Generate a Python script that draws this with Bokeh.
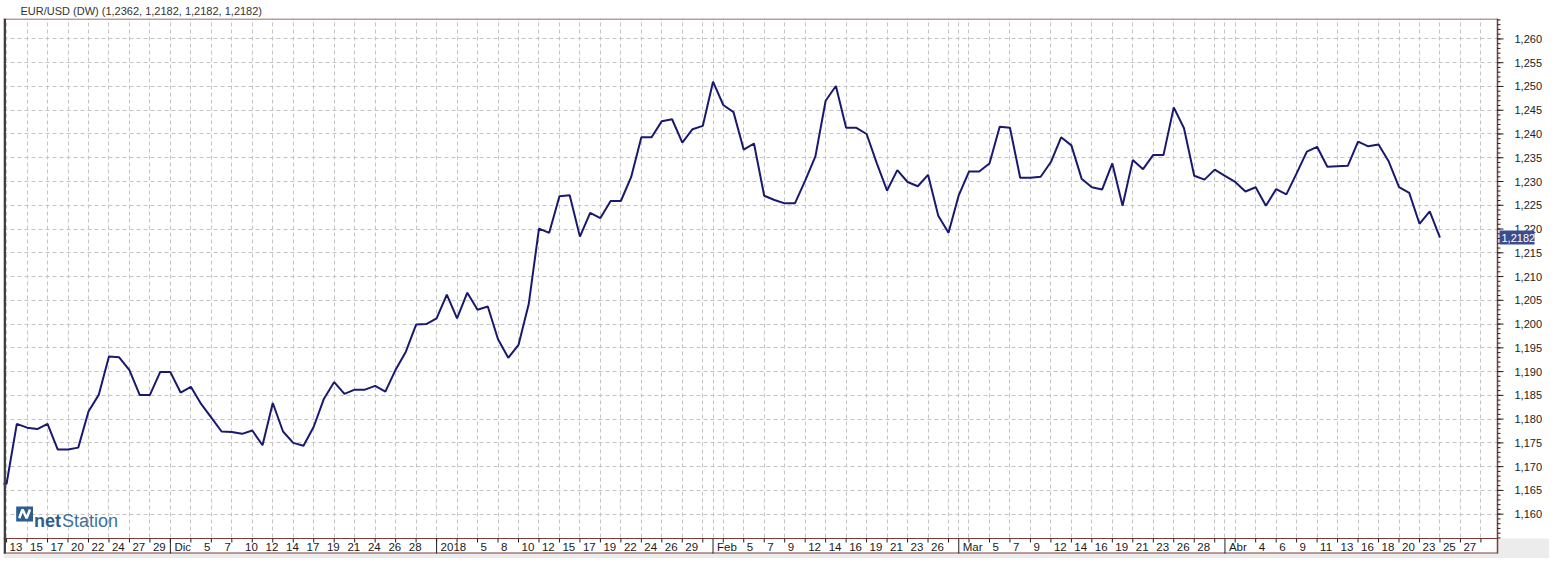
from bokeh.plotting import figure
from bokeh.models import Range1d, FixedTicker, Grid
from bokeh.core.properties import value
from bokeh.embed import file_html
from bokeh.resources import INLINE

# ---------------- data ----------------
title_text = "EUR/USD (DW) (1,2362, 1,2182, 1,2182, 1,2182)"

# daily closes, one per session bar (bar 0 = Sun 12 Nov 2017 ... bar 141 = 25 Apr 2018)
close = [
    1.1664, 1.1664, 1.1790, 1.1782, 1.1779, 1.1790, 1.1736, 1.1736, 1.1740, 1.1816,
    1.1851, 1.1932, 1.1930, 1.1903, 1.1851, 1.1851, 1.1899, 1.1899, 1.1856, 1.1868,
    1.1832, 1.1803, 1.1774, 1.1773, 1.1769, 1.1776, 1.1745, 1.1834, 1.1774, 1.1750,
    1.1744, 1.1784, 1.1843, 1.1878, 1.1853, 1.1862, 1.1862, 1.1870, 1.1858, 1.1904,
    1.1942, 1.1999, 1.2000, 1.2012, 1.2062, 1.2012, 1.2066, 1.2030, 1.2037, 1.1968,
    1.1929, 1.1956, 1.2042, 1.2201, 1.2192, 1.2269, 1.2271, 1.2184, 1.2234, 1.2223,
    1.2259, 1.2259, 1.2309, 1.2393, 1.2393, 1.2427, 1.2431, 1.2382, 1.2410, 1.2417,
    1.2510, 1.2461, 1.2446, 1.2367, 1.2380, 1.2270, 1.2261, 1.2254, 1.2254, 1.2302,
    1.2353, 1.2470, 1.2501, 1.2413, 1.2413, 1.2400, 1.2338, 1.2281, 1.2324, 1.2299,
    1.2290, 1.2314, 1.2228, 1.2192, 1.2271, 1.2321, 1.2321, 1.2338, 1.2415, 1.2413,
    1.2308, 1.2308, 1.2310, 1.2341, 1.2393, 1.2376, 1.2306, 1.2288, 1.2283, 1.2338,
    1.2249, 1.2345, 1.2326, 1.2356, 1.2356, 1.2456, 1.2412, 1.2312, 1.2304, 1.2325,
    1.2312, 1.2299, 1.2279, 1.2288, 1.2249, 1.2284, 1.2273, 1.2317, 1.2363, 1.2373,
    1.2331, 1.2332, 1.2333, 1.2384, 1.2374, 1.2378, 1.2342, 1.2288, 1.2276, 1.2211,
    1.2237, 1.2182,
]
bars = list(range(len(close)))

day_bars = [1, 3, 5, 7, 9, 11, 13, 15,
            20, 22, 24, 26, 28, 30, 32, 34, 36, 38, 40,
            47, 49, 51, 53, 55, 57, 59, 61, 63, 65, 67,
            73, 75, 77, 79, 81, 83, 85, 87, 89, 91,
            97, 99, 101, 103, 105, 107, 109, 111, 113, 115, 117,
            123, 125, 127, 129, 131, 133, 135, 137, 139, 141, 143]
day_labels = ["13", "15", "17", "20", "22", "24", "27", "29",
              "5", "7", "10", "12", "14", "17", "19", "21", "24", "26", "28",
              "5", "8", "10", "12", "15", "17", "19", "22", "24", "26", "29",
              "5", "7", "9", "12", "14", "16", "19", "21", "23", "26",
              "5", "7", "9", "12", "14", "16", "19", "21", "23", "26", "28",
              "4", "6", "9", "11", "13", "16", "18", "20", "23", "25", "27"]
month_bars = [17, 43, 70, 94, 120]
month_labels = ["Dic", "2018", "Feb", "Mar", "Abr"]
tick_bars = list(range(1, 146, 2))
grid_bars = sorted(set(tick_bars + month_bars))

y_ticks = [1.160, 1.165, 1.170, 1.175, 1.180, 1.185, 1.190, 1.195, 1.200, 1.205, 1.210,
           1.215, 1.220, 1.225, 1.230, 1.235, 1.240, 1.245, 1.250, 1.255, 1.260]
y_tick_labels = ["1,160", "1,165", "1,170", "1,175", "1,180", "1,185", "1,190", "1,195",
                 "1,200", "1,205", "1,210", "1,215", "1,220", "1,225", "1,230", "1,235",
                 "1,240", "1,245", "1,250", "1,255", "1,260"]
y_minor = [round(1.155 + 0.001 * i, 3) for i in range(0, 110)]

# ---------------- layout constants ----------------
FW = 1494          # chart part of the frame (px)
AX_PX = 52         # right price-axis strip (px)
FH_PLOT = 520      # price area height (px)
STRIP_PX = 15      # date strip height (px)
BOTTOM_PX = 5      # grey window edge below the date strip
X0, X1 = 0.70, 146.62
Y_TOP, Y_BOT = 1.2643, 1.15488
PPU = FH_PLOT / (Y_TOP - Y_BOT)
PPB = FW / (X1 - X0)
Y_START = Y_BOT - STRIP_PX / PPU
Y_ALL = Y_START - BOTTOM_PX / PPU
X1E = X1 + AX_PX / PPB

BROWN = "#7d3b3b"
TICKC = "#2b1a1a"
FONT = "Liberation Sans"
GREY = "#ececec"

p = figure(frame_width=FW + AX_PX, frame_height=FH_PLOT + STRIP_PX + BOTTOM_PX,
           x_range=Range1d(X0, X1E), y_range=Range1d(Y_ALL, Y_TOP),
           x_axis_location=None, y_axis_location=None,
           output_backend="svg", toolbar_location=None,
           min_border_left=3, min_border_right=0, min_border_top=18, min_border_bottom=0,
           title=title_text)

p.title.text_font = FONT
p.title.text_font_size = "11px"
p.title.text_font_style = "normal"
p.title.text_color = "#333333"
p.title.align = "left"
p.title.offset = 17
p.title.standoff = 3

p.outline_line_color = None
p.background_fill_color = "white"
p.border_fill_color = "white"

# grids
p.grid.visible = False
p.add_layout(Grid(dimension=0, ticker=FixedTicker(ticks=grid_bars),
                  grid_line_color="#c4c4c4", grid_line_dash="4 3", grid_line_width=1))
p.add_layout(Grid(dimension=1, ticker=FixedTicker(ticks=y_ticks),
                  grid_line_color="#c4c4c4", grid_line_dash="4 3", grid_line_width=1))

# price line
p.line(bars, close, line_color="#191970", line_width=2)

# date strip and window edge
p.quad(left=[X0], right=[X1], bottom=[Y_START], top=[Y_BOT],
       fill_color="white", line_color=None)
p.quad(left=[X0], right=[X1E], bottom=[Y_ALL], top=[Y_START],
       fill_color=GREY, line_color=None)
# price-axis strip
p.quad(left=[X1], right=[X1E], bottom=[Y_BOT], top=[Y_TOP],
       fill_color="white", line_color=None)
p.quad(left=[X1], right=[X1E], bottom=[Y_ALL], top=[Y_BOT],
       fill_color=GREY, line_color=None)

# borders
half = 0.5 / PPU
p.segment(x0=[X0, X0, X0], y0=[Y_TOP - half, Y_BOT, Y_START + half],
          x1=[X1, X1, X1], y1=[Y_TOP - half, Y_BOT, Y_START + half],
          line_color=BROWN, line_width=1)
p.segment(x0=[X1], y0=[Y_START], x1=[X1], y1=[Y_TOP], line_color=BROWN, line_width=1.5)
p.segment(x0=[X0 + 1.2 / PPB], y0=[Y_START], x1=[X0 + 1.2 / PPB], y1=[Y_TOP],
          line_color="#3c3c3c", line_width=2.5)

# date ticks, month separators, date labels
p.segment(x0=tick_bars, y0=[Y_BOT] * len(tick_bars), x1=tick_bars,
          y1=[Y_BOT - 4 / PPU] * len(tick_bars), line_color=TICKC, line_width=1)
p.segment(x0=month_bars, y0=[Y_BOT] * len(month_bars), x1=month_bars,
          y1=[Y_START] * len(month_bars), line_color="#202020", line_width=1)
label_y = Y_BOT - (STRIP_PX / 2 + 0.5) / PPU
p.text(x=day_bars, y=[label_y] * len(day_bars), text=day_labels, x_offset=3,
       text_font=value(FONT), text_font_size="11.5px", text_color="#1a1a1a",
       text_baseline="middle", text_align="left")
p.text(x=month_bars, y=[label_y] * len(month_bars), text=month_labels, x_offset=4,
       text_font=value(FONT), text_font_size="11.5px", text_color="#1a1a1a",
       text_baseline="middle", text_align="left")

# price axis ticks and labels
p.segment(x0=[X1] * len(y_minor), y0=y_minor, x1=[X1 + 3 / PPB] * len(y_minor), y1=y_minor,
          line_color=TICKC, line_width=1)
p.segment(x0=[X1] * len(y_ticks), y0=y_ticks, x1=[X1 + 6 / PPB] * len(y_ticks), y1=y_ticks,
          line_color=TICKC, line_width=1)
p.text(x=[X1] * len(y_ticks), y=y_ticks, text=y_tick_labels, x_offset=17,
       text_font=value(FONT), text_font_size="11px", text_color="#222222",
       text_baseline="middle", text_align="left")

# last price tag
last = close[-1]
p.quad(left=[X1 + 2 / PPB], right=[X1 + 37 / PPB],
       bottom=[last - 7 / PPU], top=[last + 7 / PPU],
       fill_color="#3d4c8c", line_color=None)
p.text(x=[X1], y=[last], text=[f"{last:.4f}".replace(".", ",")], x_offset=4,
       text_font=value(FONT), text_font_size="11px", text_color="white",
       text_baseline="middle", text_align="left")

# netStation watermark
ix0 = 1.0 + (17 - 7.3) / 10.34
ix1 = 1.0 + (34 - 7.3) / 10.34
iy0 = Y_BOT + 17 / PPU
iy1 = Y_BOT + 32 / PPU
p.quad(left=[ix0], right=[ix1], bottom=[iy0], top=[iy1],
       fill_color="#2c5f8e", line_color=None)
zx = [ix0 + f * (ix1 - ix0) for f in (0.18, 0.38, 0.62, 0.82)]
zy = [iy0 + f * (iy1 - iy0) for f in (0.22, 0.80, 0.22, 0.80)]
p.line(zx, zy, line_color="white", line_width=2.5)
base_y = Y_BOT + 18 / PPU
p.text(x=[ix1], y=[base_y], text=["net"], x_offset=1,
       text_font=value(FONT), text_font_size="18px", text_font_style="bold",
       text_color="#2d5e8c", text_baseline="alphabetic", text_align="left")
p.text(x=[ix1], y=[base_y], text=["Station"], x_offset=29,
       text_font=value(FONT), text_font_size="18px",
       text_color="#3e6f9a", text_baseline="alphabetic", text_align="left")

open("out.html", "w").write(file_html(p, INLINE))
